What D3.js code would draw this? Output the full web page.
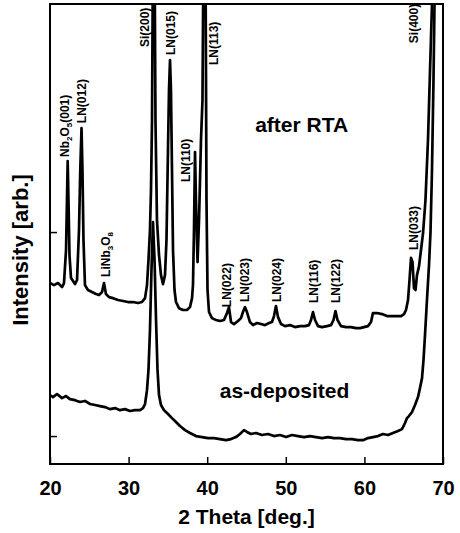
<!DOCTYPE html>
<html><head><meta charset="utf-8">
<script src="https://cdn.jsdelivr.net/npm/d3@7"></script>
<style>
html,body{margin:0;padding:0;background:#fff;}
svg{display:block;font-family:"Liberation Sans",Arial,Helvetica,sans-serif;}
</style></head>
<body>
<svg id="chart" width="460" height="533"></svg>
<script>
// ---- data (2 Theta in degrees, intensity in arbitrary units) ----
const rtaTheta = [20.00,20.51,21.02,21.53,21.78,22.04,22.16,22.25,22.35,22.48,22.67,22.93,23.18,23.44,23.69,23.85,24.01,24.13,24.26,24.45,24.83,25.34,25.85,26.23,26.62,26.87,27.12,27.51,28.02,28.65,29.29,29.92,30.56,31.20,31.70,32.09,32.34,32.53,32.72,32.85,32.98,33.10,33.30,33.42,33.61,33.87,34.12,34.38,34.63,34.82,35.01,35.14,35.27,35.39,35.52,35.65,35.84,36.03,36.41,36.92,37.43,37.81,38.07,38.19,38.32,38.45,38.57,38.77,38.96,39.21,39.40,39.53,39.78,39.91,40.04,40.23,40.61,41.12,41.63,42.14,42.52,42.77,43.03,43.41,43.92,44.30,44.55,44.81,45.06,45.44,45.83,46.34,46.84,47.35,47.86,48.24,48.50,48.75,49.01,49.39,49.90,50.53,51.17,51.81,52.44,52.95,53.21,53.46,53.72,54.10,54.61,55.24,55.75,56.07,56.32,56.58,57.02,57.66,58.30,58.93,59.44,59.95,60.46,60.84,61.09,61.60,62.24,62.87,63.51,64.15,64.66,65.04,65.29,65.55,65.74,65.93,66.12,66.31,66.50,66.69,66.95,67.20,67.46,67.77,68.09,68.35,68.60,68.85,69.17,69.60,70.00];
const rtaIntensity = [75.0,74.0,75.0,73.0,75.0,91.2,115.7,134.8,115.7,88.7,77.5,76.0,74.5,76.5,101.0,130.4,151.0,130.4,96.1,74.0,71.6,70.6,69.6,69.1,70.6,75.0,69.6,68.1,67.6,66.7,66.2,65.7,65.7,65.2,65.7,67.6,74.0,86.3,101.0,120.6,154.9,240,240,154.9,105.9,88.7,78.9,74.5,78.9,96.1,140.2,169.6,184.3,169.6,130.4,91.2,71.6,65.7,62.7,61.8,61.8,63.2,67.6,74.0,101.0,139.2,115.7,85.3,105.9,145.1,164.7,240,240,115.7,71.6,60.8,57.8,56.9,56.4,56.9,60.3,63.2,55.9,54.9,56.4,57.8,60.8,63.2,60.8,55.9,54.4,55.4,54.9,54.4,55.4,55.9,58.8,63.7,58.3,54.9,53.9,54.4,53.4,53.9,53.9,54.4,56.9,60.8,56.9,53.9,53.4,53.9,54.4,56.9,61.3,56.9,53.9,53.4,53.4,52.9,52.9,53.4,53.9,55.9,60.3,60.3,59.8,58.8,58.8,58.8,58.8,59.8,61.8,66.7,76.5,87.3,85.3,72.5,71.6,78.9,83.3,91.2,99.5,115.7,145.1,179.4,211.8,240,240,240];

const depTheta = [20.00,20.38,20.89,21.53,22.04,22.54,23.18,23.82,24.45,25.09,25.73,26.36,27.00,27.63,28.27,28.91,29.54,30.18,30.81,31.45,31.83,32.09,32.34,32.53,32.72,32.91,33.10,33.30,33.49,33.68,33.87,34.12,34.50,35.01,35.52,36.03,36.54,37.18,37.81,38.57,39.34,40.10,40.87,41.63,42.39,43.03,43.66,44.17,44.68,45.06,45.57,46.21,46.97,47.74,48.50,49.26,50.03,50.79,51.55,52.32,53.08,53.84,54.61,55.37,56.13,56.90,57.66,58.42,59.19,59.82,60.46,61.09,61.73,62.37,63.00,63.64,64.27,64.78,65.17,65.42,65.67,66.06,66.44,66.82,67.07,67.33,67.52,67.71,67.96,68.22,68.41,68.60,68.79,68.92,69.05,69.60,70.00];
const depIntensity = [20.1,19.1,20.6,18.6,19.6,18.1,17.6,16.7,17.2,15.7,15.2,14.7,14.2,13.2,13.7,12.7,13.2,12.3,12.7,12.7,13.7,15.7,22.5,32.4,52.0,81.4,104.9,86.3,56.9,32.4,20.1,15.2,12.7,10.8,8.8,6.9,4.9,2.9,1.5,0,-0.5,-1.0,-1.0,-1.5,-2.0,-1.5,-0.5,1.0,2.9,2.0,1.0,1.5,0.5,1.0,0,0.5,-0.5,0.5,0,-0.5,0,-0.5,-1.0,-0.5,-1.0,-1.0,-1.5,-1.5,-2.0,-2.0,-1.0,-0.5,0,1.0,0.5,1.5,2.5,3.4,6.4,8.8,9.8,11.8,15.2,19.1,23.5,28.4,37.3,49.5,66.7,83.8,100.0,130.4,174.5,211.8,228,240,240];

const xTicks = [20,30,40,50,60,70];
const yTicks = [0,100];

const peakNames = ["Nb2O5(001)","LN(012)","LiNb3O8","Si(200)","LN(015)","LN(110)","LN(113)","LN(022)","LN(023)","LN(024)","LN(116)","LN(122)","LN(033)","Si(400)"];
const peakTheta = [21.9,24.07,27.12,32.09,35.39,37.3,40.87,42.52,44.81,48.88,53.59,56.39,66.31,66.31];
const peakLabelBase = [136.8,153.4,78.0,190.7,186.8,124.5,181.9,63.2,65.7,65.7,65.2,65.2,91.2,192.6];

const curveNames = ["after RTA","as-deposited"];

// ---- layout ----
const svg = d3.select("#chart");
const L = 50, R = 443, T = 4, B = 464;
const x = d3.scaleLinear().domain([20,70]).range([L,R]);
const y = d3.scaleLinear().domain([-13.7,211.8]).range([B,T]);

svg.append("defs").append("clipPath").attr("id","clip")
  .append("rect").attr("x",L).attr("y",T).attr("width",R-L).attr("height",B-T);

// peak labels (drawn first so curves overlay)
const fontLbl = 12;
peakNames.forEach((name,i)=>{
  const t = svg.append("text")
    .attr("transform",`translate(${x(peakTheta[i])},${y(peakLabelBase[i])}) rotate(-90)`)
    .attr("dy","0.36em")
    .attr("font-size",fontLbl).attr("font-weight","bold").attr("fill","#000");
  if (name.startsWith("Nb2O5")) {
    t.append("tspan").text("Nb");
    t.append("tspan").text("2").attr("font-size",8).attr("dy","3");
    t.append("tspan").text("O").attr("dy","-3");
    t.append("tspan").text("5").attr("font-size",8).attr("dy","3");
    t.append("tspan").text("(001)").attr("dy","-3");
  } else if (name.startsWith("LiNb3O8")) {
    t.append("tspan").text("LiNb");
    t.append("tspan").text("3").attr("font-size",8).attr("dy","3");
    t.append("tspan").text("O").attr("dy","-3");
    t.append("tspan").text("8").attr("font-size",8).attr("dy","3");
  } else {
    t.text(name);
  }
});

const line = d3.line().x(d=>x(d[0])).y(d=>y(d[1]));
const g = svg.append("g").attr("clip-path","url(#clip)");
g.append("path").datum(rtaTheta.map((t,i)=>[t,rtaIntensity[i]]))
  .attr("d",line).attr("fill","none").attr("stroke","#000").attr("stroke-width",2.7).attr("stroke-linejoin","round");
g.append("path").datum(depTheta.map((t,i)=>[t,depIntensity[i]]))
  .attr("d",line).attr("fill","none").attr("stroke","#000").attr("stroke-width",2.7).attr("stroke-linejoin","round");

// frame
svg.append("rect").attr("x",L).attr("y",T).attr("width",R-L).attr("height",B-T)
  .attr("fill","none").attr("stroke","#000").attr("stroke-width",2);

// x axis: inward ticks + labels
const xAxis = d3.axisBottom(x).tickValues(xTicks).tickSize(-7).tickPadding(17).tickFormat(d3.format("d"));
const xg = svg.append("g").attr("transform",`translate(0,${B})`).call(xAxis);
xg.select(".domain").remove();
xg.selectAll("line").attr("stroke","#000").attr("stroke-width",1.5);
xg.selectAll("text").attr("font-size",20).attr("font-weight","bold").attr("fill","#000")
  .attr("font-family","Liberation Sans, Arial, sans-serif");

const yAxis = d3.axisLeft(y).tickValues(yTicks).tickSize(-7).tickFormat("");
const yg = svg.append("g").attr("transform",`translate(${L},0)`).call(yAxis);
yg.select(".domain").remove();
yg.selectAll("line").attr("stroke","#000").attr("stroke-width",1.5);

// axis titles
svg.append("text").attr("x",(L+R)/2).attr("y",524).attr("text-anchor","middle")
  .attr("font-size",21).attr("font-weight","bold").text("2 Theta [deg.]");
svg.append("text").attr("transform",`translate(20,250) rotate(-90)`).attr("dy","0.36em")
  .attr("text-anchor","middle").attr("font-size",22).attr("font-weight","bold").text("Intensity [arb.]");

// curve labels
svg.append("text").attr("x",x(46.1)).attr("y",y(149)).attr("font-size",21).attr("font-weight","bold").text(curveNames[0]);
svg.append("text").attr("x",x(41.6)).attr("y",y(18.6)).attr("font-size",21).attr("font-weight","bold").text(curveNames[1]);
</script>
</body></html>
